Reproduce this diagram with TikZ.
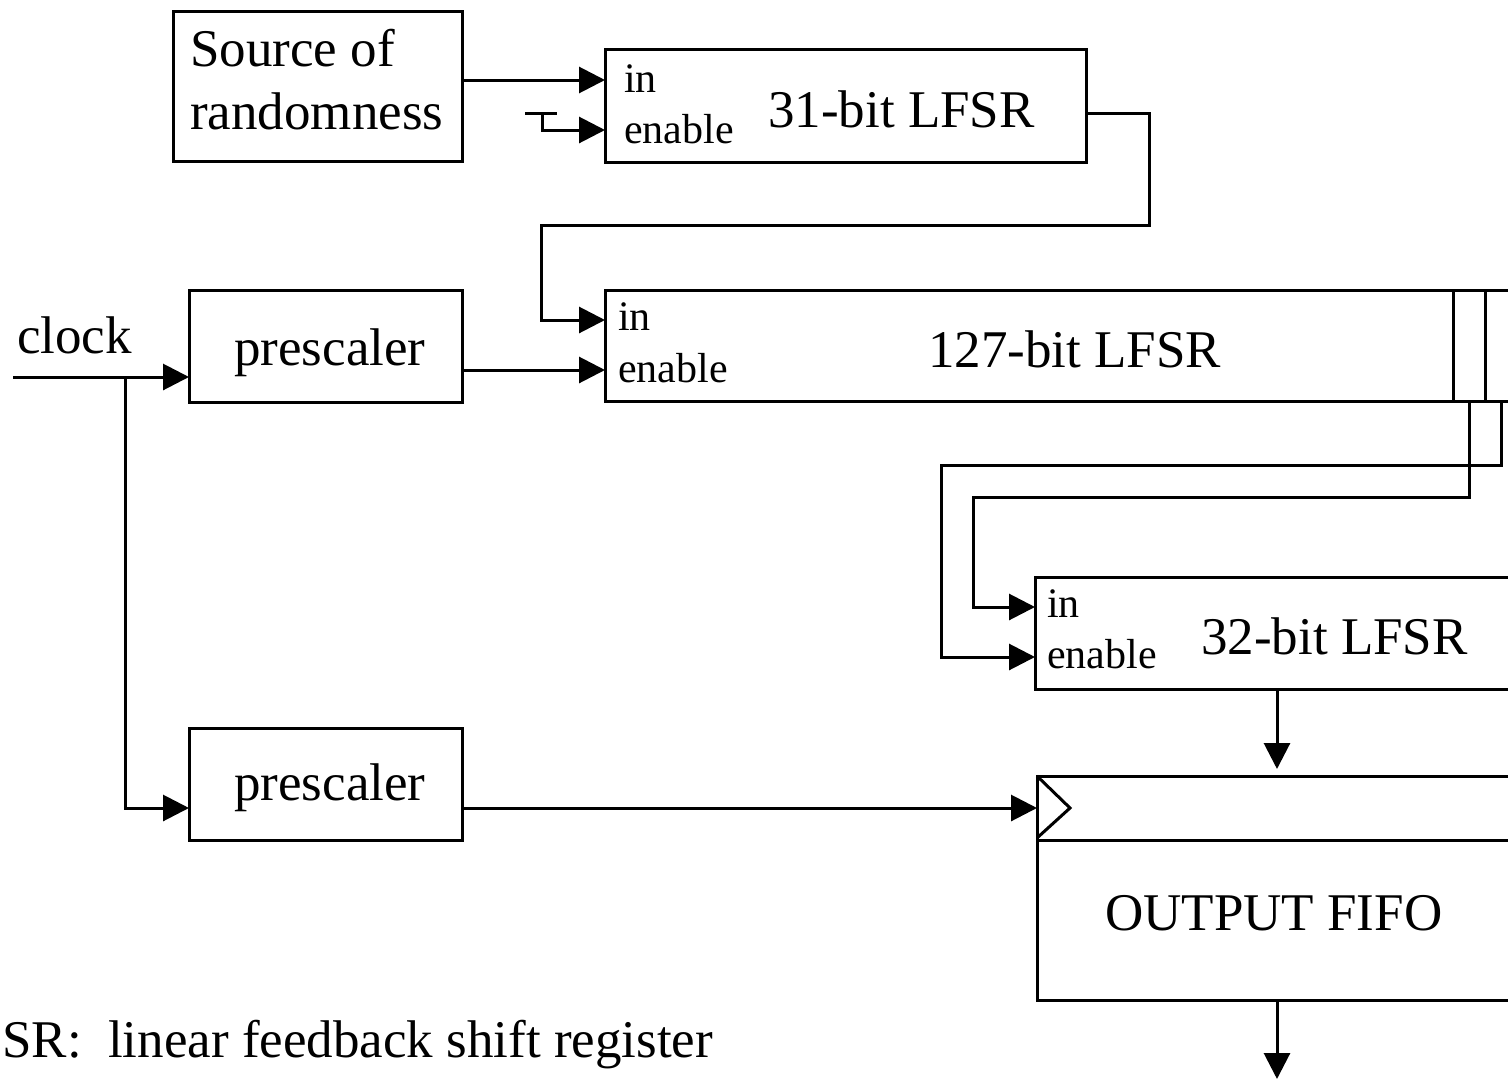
\documentclass[tikz,border=0pt]{standalone}
\usepackage{fontspec}
\setmainfont{Liberation Serif}
\usetikzlibrary{arrows.meta,calc}
\begin{document}
\begin{tikzpicture}[x=1pt,y=-1pt,
  wire/.style={line width=3pt},
  sig/.style={wire,-{Triangle[length=26pt,width=26pt]}},
  blk/.style={draw,line width=3pt,rectangle,inner sep=0pt,outer sep=0pt,anchor=north west},
  big/.style={font=\fontsize{53}{63}\selectfont,inner sep=0pt,anchor=base west},
  port/.style={font=\fontsize{42}{50}\selectfont,inner sep=0pt,anchor=base west},
]
\useasboundingbox (0,0) rectangle (1508,1079);
\clip (0,0) rectangle (1508,1079);

% blocks
\node[blk,minimum width=289pt,minimum height=150pt] (src) at (173,11) {};
\node[blk,minimum width=481pt,minimum height=113pt] (l31) at (605,49) {};
\node[blk,minimum width=273pt,minimum height=112pt] (pre1) at (189,290) {};
\node[blk,minimum width=940pt,minimum height=111pt] (l127) at (605,290) {};
\node[blk,minimum width=500pt,minimum height=112pt] (l32) at (1035,577) {};
\node[blk,minimum width=273pt,minimum height=112pt] (pre2) at (189,728) {};
\node[blk,minimum width=500pt,minimum height=224pt] (fifo) at (1037,776) {};

% tap cells at the end of the 127-bit register
\draw[wire] (1453,290) -- (1453,401);
\draw[wire] (1485,290) -- (1485,401);
% FIFO clock input and header row
\draw[wire] (1037,840) -- (1540,840);
\draw[wire] (fifo.north west) -- (1070,808) -- (1037,838);

% texts
\node[font=\fontsize{53}{63}\selectfont,inner sep=0pt,anchor=north west,align=left] (tsrc) at (190,29) {Source of\\randomness};
\node[port] (i31) at (624,92) {in};
\node[port] (e31) at (624,143) {enable};
\node[big] (t31) at (768,127) {31-bit LFSR};
\node[big] (tclk) at (17,353) {clock};
\node[big] (tp1) at (234,365) {prescaler};
\node[port] (i127) at (618,330) {in};
\node[port] (e127) at (618,382) {enable};
\node[big] (t127) at (928,367) {127-bit LFSR};
\node[port] (i32) at (1047,617) {in};
\node[port] (e32) at (1047,668) {enable};
\node[big] (t32) at (1201,654) {32-bit LFSR};
\node[big] (tp2) at (234,800) {prescaler};
\node[big] (tfifo) at (1105,930) {OUTPUT FIFO};
\node[big] (tnote) at (2,1057) {SR:\ \ linear feedback shift register};

% port coordinates
\coordinate (p31in) at (605,80);
\coordinate (p31en) at (605,130);
\coordinate (p127in) at (605,320);
\coordinate (p127en) at (605,370);
\coordinate (p32in) at (1035,607);
\coordinate (p32en) at (1035,657);
\coordinate (pclk) at (1037,808);
\coordinate (clkin) at (13,377);
\coordinate (clkfork) at (125,377);
\coordinate (ensrc) at (525,113);
\coordinate (tapA) at (1469,401);
\coordinate (tapB) at (1501,401);

% connectors
\draw[sig] (src.east |- p31in) -- (p31in);
\draw[wire] (ensrc) -- (557,113);
\draw[sig] (542,113) -- (542,130) -- (p31en);
\draw[sig] (l31.east |- 0,113) -- (1149,113) -- (1149,225) -- (541,225) -- (541,320) -- (p127in);
\draw[sig] (clkin) -- (pre1.west |- clkin);
\draw[sig] (clkfork) -- (125,808) -- (pre2.west |- 0,808);
\draw[sig] (pre1.east |- p127en) -- (p127en);
\draw[sig] (pre2.east |- pclk) -- (pclk);
\draw[sig] (tapA) -- (1469,497) -- (973,497) -- (973,607) -- (p32in);
\draw[sig] (tapB) -- (1501,465) -- (941,465) -- (941,657) -- (p32en);
\draw[sig] (1277,689) -- (1277,769);
\draw[sig] (1277,1000) -- (1277,1079);
\end{tikzpicture}
\end{document}
